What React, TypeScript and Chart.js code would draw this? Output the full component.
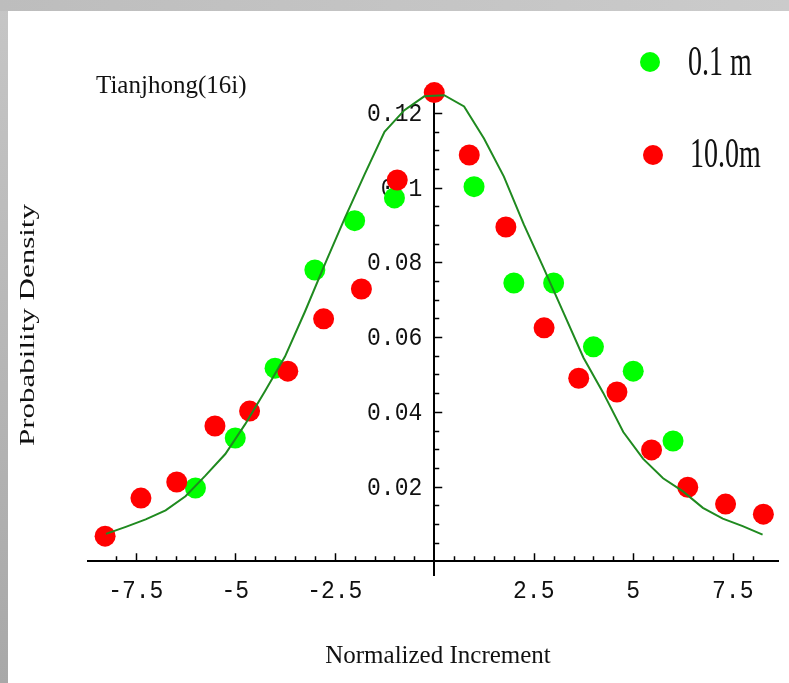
import React, { useEffect, useRef } from 'react';
import { Chart, registerables } from 'chart.js';

Chart.register(...registerables);

// ---- data ----
const greenLabel = '0.1 m';
const redLabel = '10.0m';

const greenX = [-6, -5, -4, -3, -2, -1, 0, 1, 2, 3, 4, 5, 6];
const greenY = [0.0196, 0.033, 0.0517, 0.078, 0.0912, 0.0973, 0.1322, 0.1003, 0.0745, 0.0745, 0.0574, 0.0509, 0.0322];

const redX = [-8.27, -7.37, -6.47, -5.51, -4.64, -3.68, -2.78, -1.83, -0.93, 0, 0.88, 1.8, 2.76, 3.63, 4.59, 5.46, 6.37, 7.32, 8.27];
const redY = [0.0067, 0.0169, 0.0212, 0.0362, 0.0402, 0.0509, 0.0649, 0.0729, 0.1021, 0.1255, 0.1088, 0.0895, 0.0625, 0.049, 0.0453, 0.0298, 0.0198, 0.0153, 0.0126];

const fitX = [-8.25, -7.75, -7.25, -6.75, -6.25, -5.75, -5.25, -4.75, -4.25, -3.75, -3.25, -2.75, -2.25, -1.75, -1.25, -0.75, -0.25,
  0.25, 0.75, 1.25, 1.75, 2.25, 2.75, 3.25, 3.75, 4.25, 4.75, 5.25, 5.75, 6.25, 6.75, 7.25, 7.75, 8.25];
const fitY = [0.0073, 0.0092, 0.0112, 0.0136, 0.0174, 0.0229, 0.0287, 0.0367, 0.0456, 0.0548, 0.0668, 0.0795, 0.0918, 0.1036, 0.115, 0.1208, 0.1245,
  0.1248, 0.1218, 0.1132, 0.103, 0.0902, 0.0785, 0.0665, 0.0545, 0.045, 0.0346, 0.0274, 0.0222, 0.0187, 0.0143, 0.0114, 0.0094, 0.0071];

const xTickValues = [-7.5, -5, -2.5, 2.5, 5, 7.5];
const xTickLabels = ['-7.5', '-5', '-2.5', '2.5', '5', '7.5'];
const yTickValues = [0.02, 0.04, 0.06, 0.08, 0.1, 0.12];
const yTickLabels = ['0.02', '0.04', '0.06', '0.08', '0.1', '0.12'];

const xTitle = 'Normalized Increment';
const yTitle = 'Probability Density';
const annotationText = 'Tianjhong(16i)';

const GREEN = '#00ff00';
const RED = '#ff0000';
const FIT = '#1f8a1f';

const X_MINOR = 0.5;
const X_MAJOR = 2.5;
const Y_MINOR = 0.005;
const Y_MAJOR = 0.02;
const TICK_FONT = '23px "Liberation Mono"';

function labelFor(v: number, values: number[], labels: string[]) {
  for (let i = 0; i < values.length; i++) {
    if (Math.abs(values[i] - v) < 1e-9) return labels[i];
  }
  return '';
}

function isMultiple(v: number, step: number) {
  const r = v / step;
  return Math.abs(r - Math.round(r)) < 1e-6;
}

function tallText(ctx: any, text: string, x: number, y: number, sy: number) {
  ctx.save();
  ctx.translate(x, y);
  ctx.scale(1, sy);
  ctx.fillText(text, 0, 0);
  ctx.restore();
}

const decorPlugin = {
  id: 'decor',
  beforeDatasetsDraw(chart: any) {
    const { ctx, scales } = chart;
    const xs = scales.x;
    const ys = scales.y;
    const x0 = xs.getPixelForValue(0);
    const y0 = ys.getPixelForValue(0);
    ctx.save();
    // tick marks (pointing inward like the original)
    ctx.strokeStyle = '#000';
    ctx.lineWidth = 1.5;
    ctx.beginPath();
    xs.ticks.forEach((t: any) => {
      if (Math.abs(t.value) < 1e-9 || !isMultiple(t.value, X_MINOR)) return;
      const px = Math.round(xs.getPixelForValue(t.value)) + 0.5;
      const len = isMultiple(t.value, X_MAJOR) ? 8 : 5;
      ctx.moveTo(px, y0);
      ctx.lineTo(px, y0 - len);
    });
    ys.ticks.forEach((t: any) => {
      if (Math.abs(t.value) < 1e-9 || !isMultiple(t.value, Y_MINOR)) return;
      const py = Math.round(ys.getPixelForValue(t.value)) + 0.5;
      const len = isMultiple(t.value, Y_MAJOR) ? 8 : 5;
      ctx.moveTo(x0, py);
      ctx.lineTo(x0 + len, py);
    });
    ctx.stroke();
    // tick labels
    ctx.fillStyle = '#111';
    ctx.font = TICK_FONT;
    ctx.textAlign = 'center';
    ctx.textBaseline = 'middle';
    xs.ticks.forEach((t: any) => {
      const lab = labelFor(t.value, xTickValues, xTickLabels);
      if (!lab) return;
      tallText(ctx, lab, xs.getPixelForValue(t.value), y0 + 30, 1.15);
    });
    ctx.textAlign = 'right';
    ys.ticks.forEach((t: any) => {
      const lab = labelFor(t.value, yTickValues, yTickLabels);
      if (!lab) return;
      tallText(ctx, lab, x0 - 12, ys.getPixelForValue(t.value) + 1, 1.15);
    });
    ctx.restore();
  },
  afterDraw(chart: any) {
    const { ctx } = chart;
    ctx.save();
    ctx.fillStyle = '#111';
    // annotation
    ctx.font = '25px "Liberation Serif"';
    ctx.textAlign = 'left';
    ctx.textBaseline = 'alphabetic';
    ctx.fillText(annotationText, 96, 93);
    // x title
    ctx.textAlign = 'center';
    ctx.fillText(xTitle, 438, 663);
    // y title
    ctx.save();
    ctx.translate(29, 325);
    ctx.rotate(-Math.PI / 2);
    ctx.scale(1.55, 1);
    ctx.font = '20px "Liberation Serif"';
    ctx.textAlign = 'center';
    ctx.textBaseline = 'middle';
    ctx.fillText(yTitle, 0, 0);
    ctx.restore();
    // legend
    const ds = chart.data.datasets;
    const items = [
      { color: ds[2].backgroundColor, label: ds[2].label, cx: 650, cy: 62, tx: 688, ty: 75 },
      { color: ds[1].backgroundColor, label: ds[1].label, cx: 653, cy: 155, tx: 690, ty: 167 },
    ];
    items.forEach((it) => {
      ctx.fillStyle = it.color;
      ctx.beginPath();
      ctx.arc(it.cx, it.cy, 10, 0, Math.PI * 2);
      ctx.fill();
      ctx.fillStyle = '#111';
      ctx.font = '28px "Liberation Serif"';
      ctx.textAlign = 'left';
      ctx.textBaseline = 'alphabetic';
      tallText(ctx, it.label, it.tx, it.ty, 1.5);
    });
    ctx.restore();
  },
};

export default function App() {
  const ref = useRef<HTMLCanvasElement>(null);
  useEffect(() => {
    const canvas = ref.current;
    if (!canvas) return;
    const chart = new Chart(canvas, {
      type: 'scatter',
      data: {
        datasets: [
          {
            label: 'fit',
            type: 'line',
            data: fitX.map((x, i) => ({ x, y: fitY[i] })),
            borderColor: FIT,
            backgroundColor: FIT,
            borderWidth: 2,
            pointRadius: 0,
            fill: false,
            tension: 0,
            showLine: true,
            clip: false,
          } as any,
          {
            label: redLabel,
            data: redX.map((x, i) => ({ x, y: redY[i] })),
            backgroundColor: RED,
            borderWidth: 0,
            pointRadius: 10.5,
            pointStyle: 'circle',
            clip: false,
          } as any,
          {
            label: greenLabel,
            data: greenX.map((x, i) => ({ x, y: greenY[i] })),
            backgroundColor: GREEN,
            borderWidth: 0,
            pointRadius: 10.5,
            pointStyle: 'circle',
            clip: false,
          } as any,
        ],
      },
      options: {
        responsive: false,
        animation: false,
        devicePixelRatio: 1,
        events: [],
        layout: { padding: { left: 88, right: 9, top: 87, bottom: 108 } },
        plugins: {
          legend: { display: false },
          tooltip: { enabled: false },
          title: { display: false },
        },
        scales: {
          x: {
            type: 'linear',
            position: { y: 0 } as any,
            min: -8.7,
            max: 8.65,
            grid: { display: true, drawOnChartArea: false, drawTicks: false },
            border: { display: true, color: '#000', width: 2 },
            ticks: { display: false, stepSize: X_MINOR, autoSkip: false, padding: 0 },
          },
          y: {
            type: 'linear',
            position: { x: 0 } as any,
            min: -0.0037,
            max: 0.127,
            grid: { display: true, drawOnChartArea: false, drawTicks: false },
            border: { display: true, color: '#000', width: 2 },
            ticks: { display: false, stepSize: Y_MINOR, autoSkip: false, padding: 0 },
          },
        },
      } as any,
      plugins: [decorPlugin],
    });
    return () => chart.destroy();
  }, []);

  return (
    <div
      style={{
        position: 'absolute',
        left: 0,
        top: 0,
        width: 789,
        height: 683,
        overflow: 'hidden',
        background: 'linear-gradient(to bottom, #c6c6c6, #a8a8a8)',
      }}
    >
      <div
        style={{
          position: 'absolute',
          left: 0,
          top: 0,
          width: 789,
          height: 11,
          background: 'linear-gradient(to right, #bdbdbd, #cbcbcb)',
        }}
      />
      <div style={{ position: 'absolute', left: 8, top: 11, width: 781, height: 672, background: '#ffffff' }} />
      <canvas ref={ref} width={789} height={683} style={{ position: 'absolute', left: 0, top: 0, display: 'block' }} />
    </div>
  );
}
